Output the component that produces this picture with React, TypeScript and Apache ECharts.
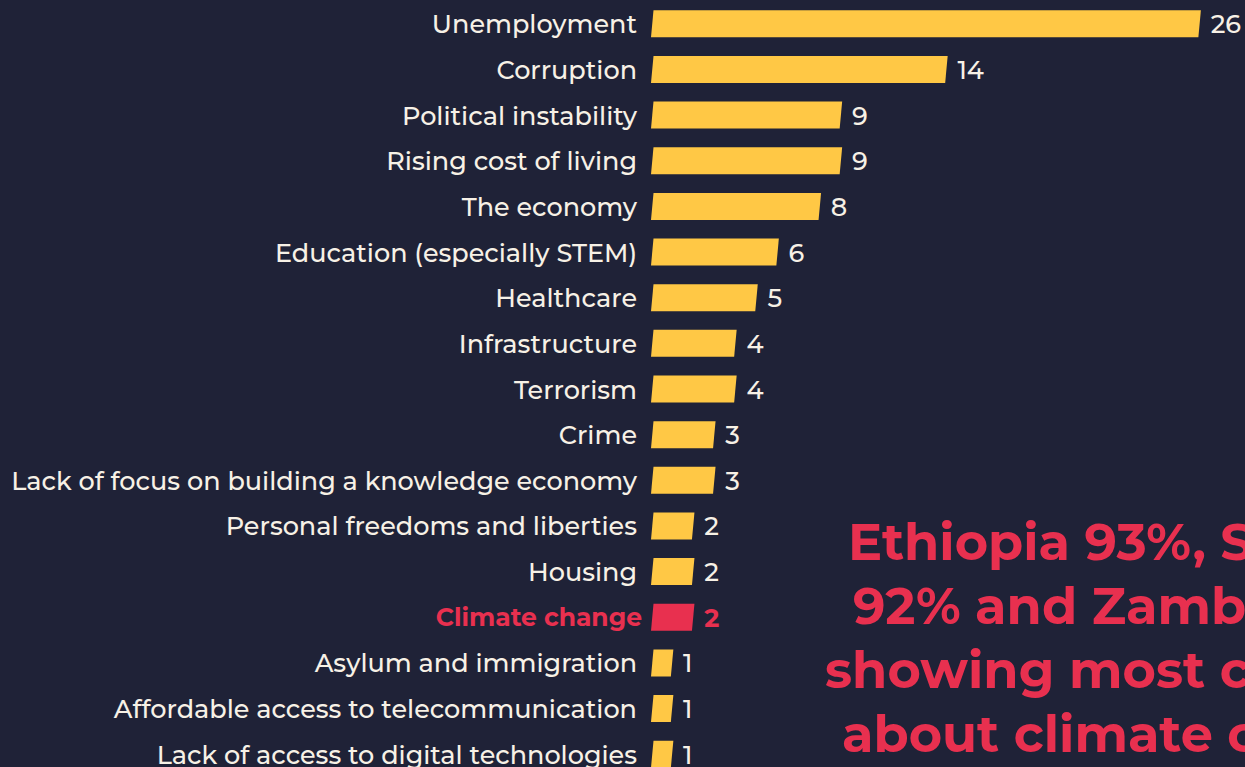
import React, { useEffect, useRef } from "react";
import * as echarts from "echarts";

const categories = [
  "Unemployment",
  "Corruption",
  "Political instability",
  "Rising cost of living",
  "The economy",
  "Education (especially STEM)",
  "Healthcare",
  "Infrastructure",
  "Terrorism",
  "Crime",
  "Lack of focus on building a knowledge economy",
  "Personal freedoms and liberties",
  "Housing",
  "Climate change",
  "Asylum and immigration",
  "Affordable access to telecommunication",
  "Lack of access to digital technologies",
];
const values = [26, 14, 9, 9, 8, 6, 5, 4, 4, 3, 3, 2, 2, 2, 1, 1, 1];
const highlight = "Climate change";
const noteLines = [
  "Ethiopia 93%, Sudan",
  "92% and Zambia 91%",
  "showing most concern",
  "about climate change",
];

const BG = "#1f2237";
const YELLOW = "#ffc845";
const RED = "#e8304f";
const CREAM = "#f7f1e6";
const FONT = "Montserrat, 'Noto Sans', sans-serif";

export default function App() {
  const ref = useRef<HTMLDivElement>(null);
  useEffect(() => {
    if (!ref.current) return;
    const chart = echarts.init(ref.current, null, { renderer: "svg" });
    const data = values.map((v, i) => [v, i]);
    chart.setOption({
      animation: false,
      backgroundColor: BG,
      grid: { left: 651, right: 0, top: 1, height: 776, containLabel: false },
      xAxis: {
        type: "value",
        min: 0,
        max: 28.15,
        show: false,
      },
      yAxis: {
        type: "category",
        data: categories,
        inverse: true,
        axisLine: { show: false },
        axisTick: { show: false },
        splitLine: { show: false },
        axisLabel: {
          margin: 14,
          fontFamily: FONT,
          fontSize: 25.5,
          fontWeight: 500,
          color: CREAM,
          formatter: (v: string) => (v === highlight ? `{hl|${v}}` : v),
          rich: {
            hl: {
              color: RED,
              fontWeight: "bold",
              fontFamily: FONT,
              fontSize: 25,
              padding: [0, -5, 0, 0],
            },
          },
        },
      },
      series: [
        {
          type: "custom",
          data,
          encode: { x: 0, y: 1 },
          renderItem: (params: any, api: any) => {
            const v = api.value(0);
            const idx = api.value(1);
            const p0 = api.coord([0, idx]);
            const p1 = api.coord([v, idx]);
            const h = 27;
            const s = 2.5;
            const yt = p0[1] - h / 2;
            const yb = p0[1] + h / 2;
            const isHl = categories[idx] === highlight;
            const color = isHl ? RED : YELLOW;
            return {
              type: "group",
              children: [
                {
                  type: "polygon",
                  shape: {
                    points: [
                      [p0[0], yb],
                      [p0[0] + s, yt],
                      [p1[0] + s / 2, yt],
                      [p1[0] - s / 2, yb],
                    ],
                  },
                  style: { fill: color },
                },
                {
                  type: "text",
                  x: p1[0] + 11,
                  y: p0[1],
                  style: {
                    text: String(v),
                    fill: isHl ? RED : CREAM,
                    font: `${isHl ? "bold" : "500"} 25.5px ${FONT}`,
                    textAlign: "left",
                    textVerticalAlign: "middle",
                  },
                },
              ],
            };
          },
        },
      ],
      graphic: noteLines.map((t, i) => ({
        type: "text",
        left: [848, 853, 825, 842][i],
        top: [516, 580, 644, 708][i],
        style: {
          text: t,
          fill: RED,
          font: `bold 51px ${FONT}`,
        },
      })),
    });
    return () => chart.dispose();
  }, []);
  return (
    <div style={{ position: "fixed", left: 0, top: 0, width: 1245, height: 767, overflow: "hidden", background: BG }}>
      <div
        ref={ref}
        style={{
          position: "absolute",
          left: 0,
          top: 0,
          width: 1245,
          height: 790,
        }}
      />
    </div>
  );
}
